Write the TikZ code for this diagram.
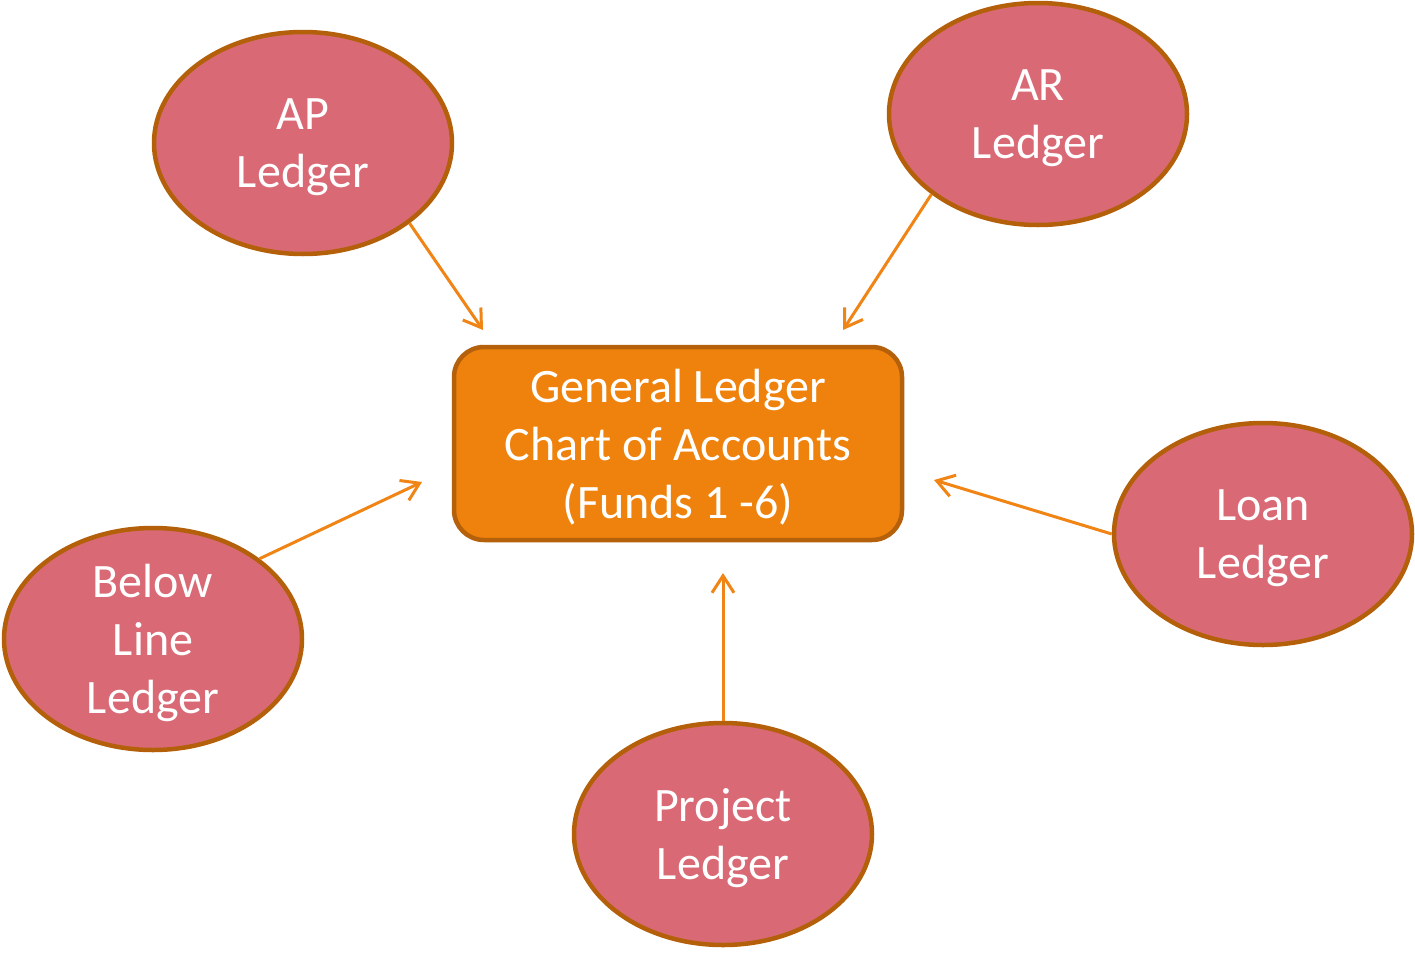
\documentclass[tikz,border=0pt]{standalone}
\usepackage{fontspec}
\setmainfont{Carlito}
\usetikzlibrary{shapes.geometric,arrows.meta}
\definecolor{ledgerfill}{HTML}{D96A75}
\definecolor{ledgerline}{HTML}{B4600A}
\definecolor{glfill}{HTML}{EF820C}
\definecolor{glline}{HTML}{B5600A}
\definecolor{feed}{HTML}{F08414}
\tikzset{
  ledger/.style={ellipse, draw=ledgerline, fill=ledgerfill, line width=4.5pt,
    minimum width=298pt, minimum height=222pt, inner sep=0pt, text depth=0pt,
    text=white, align=center, font=\fontsize{48}{58}\selectfont},
  glbox/.style={rectangle, rounded corners=30pt, draw=glline, fill=glfill, line width=4.5pt,
    minimum width=448pt, minimum height=193pt, inner sep=0pt, text depth=0pt,
    text=white, align=center, font=\fontsize{48}{58}\selectfont},
  feedline/.style={draw=feed, line width=3pt,
    -{Straight Barb[length=17pt,width=22pt,line width=3pt]}}
}
\begin{document}
\begin{tikzpicture}[x=1pt,y=-1pt]
  \useasboundingbox (0,0) rectangle (1415,953);
  % central account chart
  \node[glbox] (gl) at (678,443.5) {General Ledger\\Chart of Accounts\\(Funds 1 -6)};
  % subsidiary ledgers
  \node[ledger] (ap) at (303,143) {AP\\Ledger};
  \node[ledger] (ar) at (1038,114) {AR\\Ledger};
  \node[ledger] (loan) at (1263,534) {Loan\\Ledger};
  \node[ledger] (below) at (153,639) {Below\\Line\\Ledger};
  \node[ledger] (proj) at (723,834) {Project\\Ledger};
  % arrow tips stop short of the general ledger box
  \coordinate (tAP) at (483,330);
  \coordinate (tAR) at (843,330);
  \coordinate (tLoan) at (934,480);
  \coordinate (tBelow) at (422,482);
  \coordinate (tProj) at (723,573);
  \draw[feedline] (ap.-37) -- (tAP);
  \draw[feedline] (ar.217) -- (tAR);
  \draw[feedline] (loan.180) -- (tLoan);
  \draw[feedline] (below.37) -- (tBelow);
  \draw[feedline] (proj.90) -- (tProj);
\end{tikzpicture}
\end{document}
